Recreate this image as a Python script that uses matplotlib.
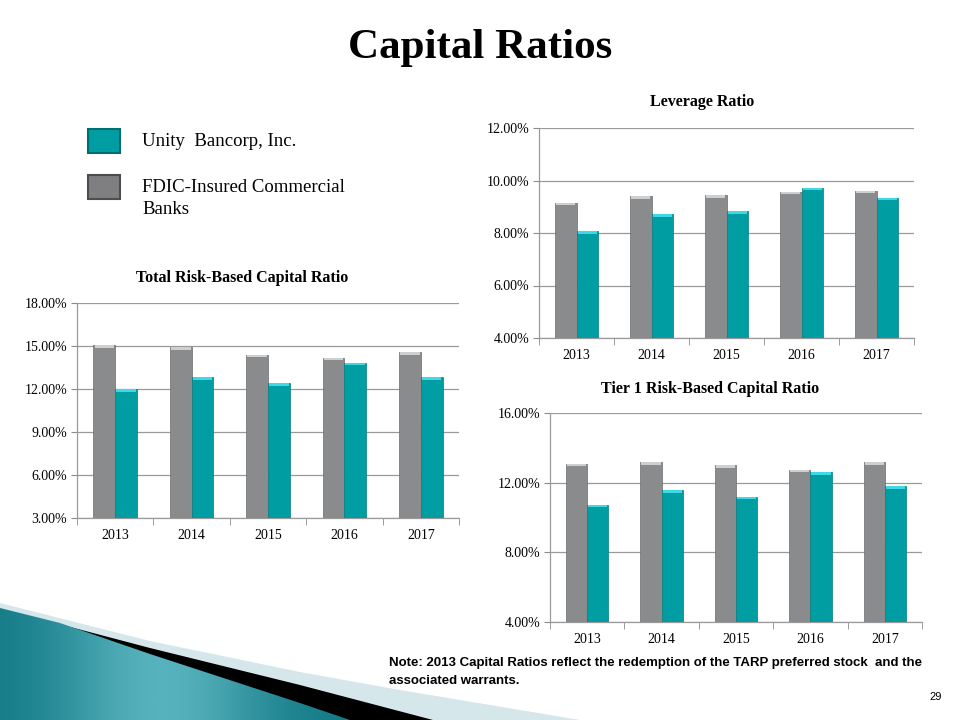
import matplotlib
matplotlib.use('Agg')
import matplotlib.pyplot as plt
import numpy as np
from matplotlib.patches import Rectangle, Polygon
from matplotlib.colors import LinearSegmentedColormap

# data
years = ['2013', '2014', '2015', '2016', '2017']

total_fdic = [15.05, 14.92, 14.38, 14.17, 14.57]
total_unity = [11.97, 12.82, 12.42, 13.82, 12.82]

leverage_fdic = [9.15, 9.41, 9.43, 9.57, 9.61]
leverage_unity = [8.06, 8.71, 8.82, 9.72, 9.34]

tier1_fdic = [13.10, 13.16, 12.99, 12.74, 13.16]
tier1_unity = [10.74, 11.57, 11.18, 12.60, 11.78]

total_ticks = [3, 6, 9, 12, 15, 18]
leverage_ticks = [4, 6, 8, 10, 12]
tier1_ticks = [4, 8, 12, 16]

GRAY = '#8a8b8d'
GRAY_CAP = '#cfcfd0'
TEAL = '#009ea2'
TEAL_CAP = '#3fd9e6'
SERIF = 'Liberation Serif'

fig = plt.figure(figsize=(9.6, 7.2), dpi=100)
bg = fig.add_axes([0, 0, 1, 1])
bg.axis('off')

# decorative swoosh bottom left
band = Polygon([(0, 603), (150, 641), (300, 672), (400, 690), (580, 720), (0, 720)],
               closed=True, facecolor='#d6e7eb', edgecolor='none', zorder=1)
bg.add_patch(band)
black = Polygon([(0, 612), (40, 619), (150, 648), (300, 685), (433, 720), (0, 720)],
                closed=True, facecolor='black', edgecolor='none', zorder=2)
bg.add_patch(black)
teal_poly = Polygon([(0, 608), (60, 623), (150, 654), (300, 703), (350, 720), (0, 720)],
                    closed=True, facecolor='none', edgecolor='none', zorder=3)
bg.add_patch(teal_poly)
gx = np.linspace(0, 1, 256)
grad = np.vstack([np.exp(-((gx - 0.45) / 0.3) ** 2)] * 2)
tl_cmap = LinearSegmentedColormap.from_list('tl', ['#137a86', '#56b2bc'])
img = bg.imshow(grad, extent=[0, 360, 720, 600], cmap=tl_cmap, aspect='auto', zorder=3)
img.set_clip_path(teal_poly)
bg.set_xlim(0, 960)
bg.set_ylim(720, 0)

# main title
bg.text(480, 48, 'Capital Ratios', ha='center', va='center', fontsize=31,
        fontweight='bold', family=SERIF)

# legend
bg.add_patch(Rectangle((88, 129), 32, 24, facecolor=TEAL, edgecolor='#006d70', lw=1.5))
bg.add_patch(Rectangle((88, 175), 32, 24, facecolor='#7f7f81', edgecolor='#4d4d4f', lw=1.5))
bg.text(142, 141, 'Unity  Bancorp, Inc.', ha='left', va='center', fontsize=13.5, family=SERIF)
bg.text(142, 188, 'FDIC-Insured Commercial', ha='left', va='center', fontsize=13.5, family=SERIF)
bg.text(142, 210, 'Banks', ha='left', va='center', fontsize=13.5, family=SERIF)

# note and page number
bg.text(389, 663, 'Note: 2013 Capital Ratios reflect the redemption of the TARP preferred stock  and the',
        ha='left', va='center', fontsize=9.5, fontweight='bold', family='Liberation Sans')
bg.text(389, 681, 'associated warrants.',
        ha='left', va='center', fontsize=9.5, fontweight='bold', family='Liberation Sans')
bg.text(936, 697, '29', ha='center', va='center', fontsize=8, family='Liberation Sans')


def draw_chart(rect, title, title_xy, fdic, unity, ticks):
    ax = fig.add_axes(rect)
    x = np.arange(len(years))
    w = 0.285
    lo, hi = ticks[0], ticks[-1]
    cap = (hi - lo) * 0.012
    ax.bar(x - w / 2, np.array(fdic) - lo, w, bottom=lo, color=GRAY,
           edgecolor='#6a6b6d', linewidth=0.5, zorder=3)
    ax.bar(x + w / 2, np.array(unity) - lo, w, bottom=lo, color=TEAL,
           edgecolor='#007e81', linewidth=0.5, zorder=3)
    ax.bar(x - w / 2, cap, w * 0.9, bottom=np.array(fdic) - cap, color=GRAY_CAP,
           linewidth=0, zorder=4)
    ax.bar(x + w / 2, cap, w * 0.9, bottom=np.array(unity) - cap, color=TEAL_CAP,
           linewidth=0, zorder=4)
    ax.set_xlim(-0.5, len(years) - 0.5)
    ax.set_ylim(lo, hi)
    ax.set_yticks(ticks)
    ax.set_yticklabels(['%.2f%%' % t for t in ticks], family=SERIF, fontsize=10)
    ax.set_xticks(x)
    ax.set_xticklabels(years, family=SERIF, fontsize=10)
    ax.set_xticks(np.arange(-0.5, len(years)), minor=True)
    ax.tick_params(axis='x', which='major', length=0, pad=8)
    ax.tick_params(axis='x', which='minor', length=5, color='#8c8c8c', direction='out')
    ax.tick_params(axis='y', length=4, color='#8c8c8c', pad=3)
    ax.grid(axis='y', color='#9a9a9a', linewidth=0.9, zorder=0)
    ax.set_axisbelow(True)
    for s in ['top', 'right']:
        ax.spines[s].set_visible(False)
    for s in ['left', 'bottom']:
        ax.spines[s].set_color('#9a9a9a')
        ax.spines[s].set_linewidth(0.9)
    ax.set_facecolor('none')
    bg.text(title_xy[0], title_xy[1], title, ha='center', va='center', fontsize=11.5,
            fontweight='bold', family=SERIF)
    return ax


draw_chart([77 / 960, 1 - 518 / 720, 382 / 960, 215 / 720], 'Total Risk-Based Capital Ratio',
           (242, 278), total_fdic, total_unity, total_ticks)
draw_chart([539 / 960, 1 - 338 / 720, 375 / 960, 210 / 720], 'Leverage Ratio',
           (702, 102), leverage_fdic, leverage_unity, leverage_ticks)
draw_chart([550 / 960, 1 - 622 / 720, 372 / 960, 209 / 720], 'Tier 1 Risk-Based Capital Ratio',
           (710, 389), tier1_fdic, tier1_unity, tier1_ticks)

plt.savefig('out.png', dpi=100)
